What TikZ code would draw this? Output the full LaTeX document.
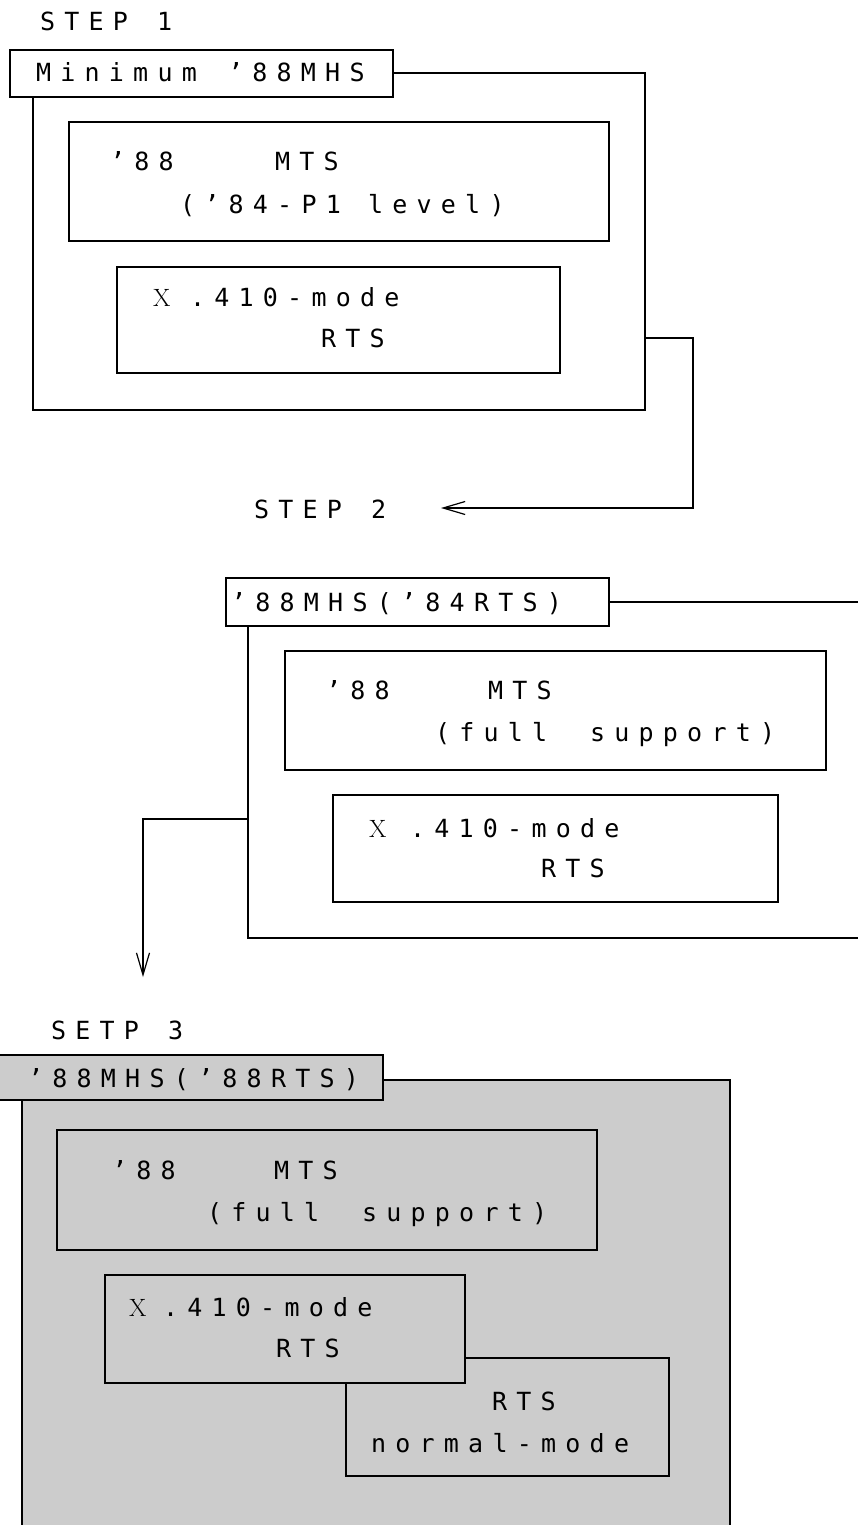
\documentclass[tikz,border=0pt]{standalone}
\usepackage{fontspec}
\newfontfamily\lbl[LetterSpace=37]{DejaVu Sans Mono}
\usetikzlibrary{arrows.meta}
\definecolor{panelgray}{HTML}{CCCCCC}
\tikzset{
  box/.style={draw=black, line width=1.2pt, rectangle, inner sep=0pt, outer sep=0pt, anchor=north west},
  txt/.style={anchor=base west, inner sep=0pt, outer sep=0pt, font=\lbl\fontsize{25}{30}\selectfont},
  xch/.style={anchor=base west, inner sep=0pt, outer sep=0pt, font=\rmfamily\fontsize{25}{30}\selectfont},
  link/.style={draw=black, line width=1.2pt, -{Straight Barb[length=22pt,width=13pt]}}
}
\begin{document}
\begin{tikzpicture}[x=1pt,y=-1pt]
\clip (0,0) rectangle (858,1525);

% ---- step 1 ----
\node[txt] (s1a) at (40,31) {STEP};
\node[txt] (s1b) at (157,31) {1};
\node[box, minimum width=612pt, minimum height=337pt] (f1) at (33,73) {};
\node[box, fill=white, minimum width=383pt, minimum height=47pt] (h1) at (10,50) {};
\node[txt] (h1a) at (36,82) {Minimum};
\node[txt] (h1b) at (228,82) {’88MHS};
\node[box, minimum width=540pt, minimum height=119pt] (a1) at (69,122) {};
\node[txt] (a1a) at (110,171) {’88};
\node[txt] (a1b) at (275,171) {MTS};
\node[txt] (a1c) at (180,214) {(’84-P1};
\node[txt] (a1d) at (368,214) {level)};
\node[box, minimum width=443pt, minimum height=106pt] (b1) at (117,267) {};
\node[xch] (b1x) at (153,306) {X};
\node[txt] (b1a) at (190,306) {.410-mode};
\node[txt] (b1b) at (321,347) {RTS};

% step 1 -> step 2
\coordinate (c1) at (645,338);
\coordinate (t1) at (441,508);
\draw[link] (c1) -- ++(48,0) |- (t1);

% ---- step 2 ----
\node[txt] (s2a) at (254,518) {STEP};
\node[txt] (s2b) at (371,518) {2};
\node[box, minimum width=630pt, minimum height=336pt] (f2) at (248,602) {};
\node[box, fill=white, minimum width=383pt, minimum height=48pt] (h2) at (226,578) {};
\node[txt] (h2a) at (231,611) {’88MHS(’84RTS)};
\node[box, minimum width=541pt, minimum height=119pt] (a2) at (285,651) {};
\node[txt] (a2a) at (326,699) {’88};
\node[txt] (a2b) at (488,699) {MTS};
\node[txt] (a2c) at (435,741) {(full};
\node[txt] (a2d) at (590,741) {support)};
\node[box, minimum width=445pt, minimum height=107pt] (b2) at (333,795) {};
\node[xch] (b2x) at (369,837) {X};
\node[txt] (b2a) at (410,837) {.410-mode};
\node[txt] (b2b) at (541,877) {RTS};

% step 2 -> step 3
\coordinate (c2) at (248,819);
\coordinate (t2) at (143,977);
\draw[link] (c2) -| (t2);

% ---- step 3 ----
\node[txt] (s3a) at (51,1039) {SETP};
\node[txt] (s3b) at (168,1039) {3};
\node[box, fill=panelgray, minimum width=708pt, minimum height=470pt] (f3) at (22,1080) {};
\node[box, fill=panelgray, minimum width=384pt, minimum height=45pt] (h3) at (-1,1055) {};
\node[txt] (h3a) at (28,1087) {’88MHS(’88RTS)};
\node[box, fill=panelgray, minimum width=540pt, minimum height=120pt] (a3) at (57,1130) {};
\node[txt] (a3a) at (112,1179) {’88};
\node[txt] (a3b) at (274,1179) {MTS};
\node[txt] (a3c) at (207,1221) {(full};
\node[txt] (a3d) at (362,1221) {support)};
\node[box, fill=panelgray, minimum width=323pt, minimum height=118pt] (g3) at (346,1358) {};
\node[txt] (g3a) at (492,1410) {RTS};
\node[txt] (g3b) at (371,1452) {normal-mode};
\node[box, fill=panelgray, minimum width=360pt, minimum height=108pt] (b3) at (105,1275) {};
\node[xch] (b3x) at (129,1316) {X};
\node[txt] (b3a) at (163,1316) {.410-mode};
\node[txt] (b3b) at (276,1357) {RTS};
\end{tikzpicture}
\end{document}
